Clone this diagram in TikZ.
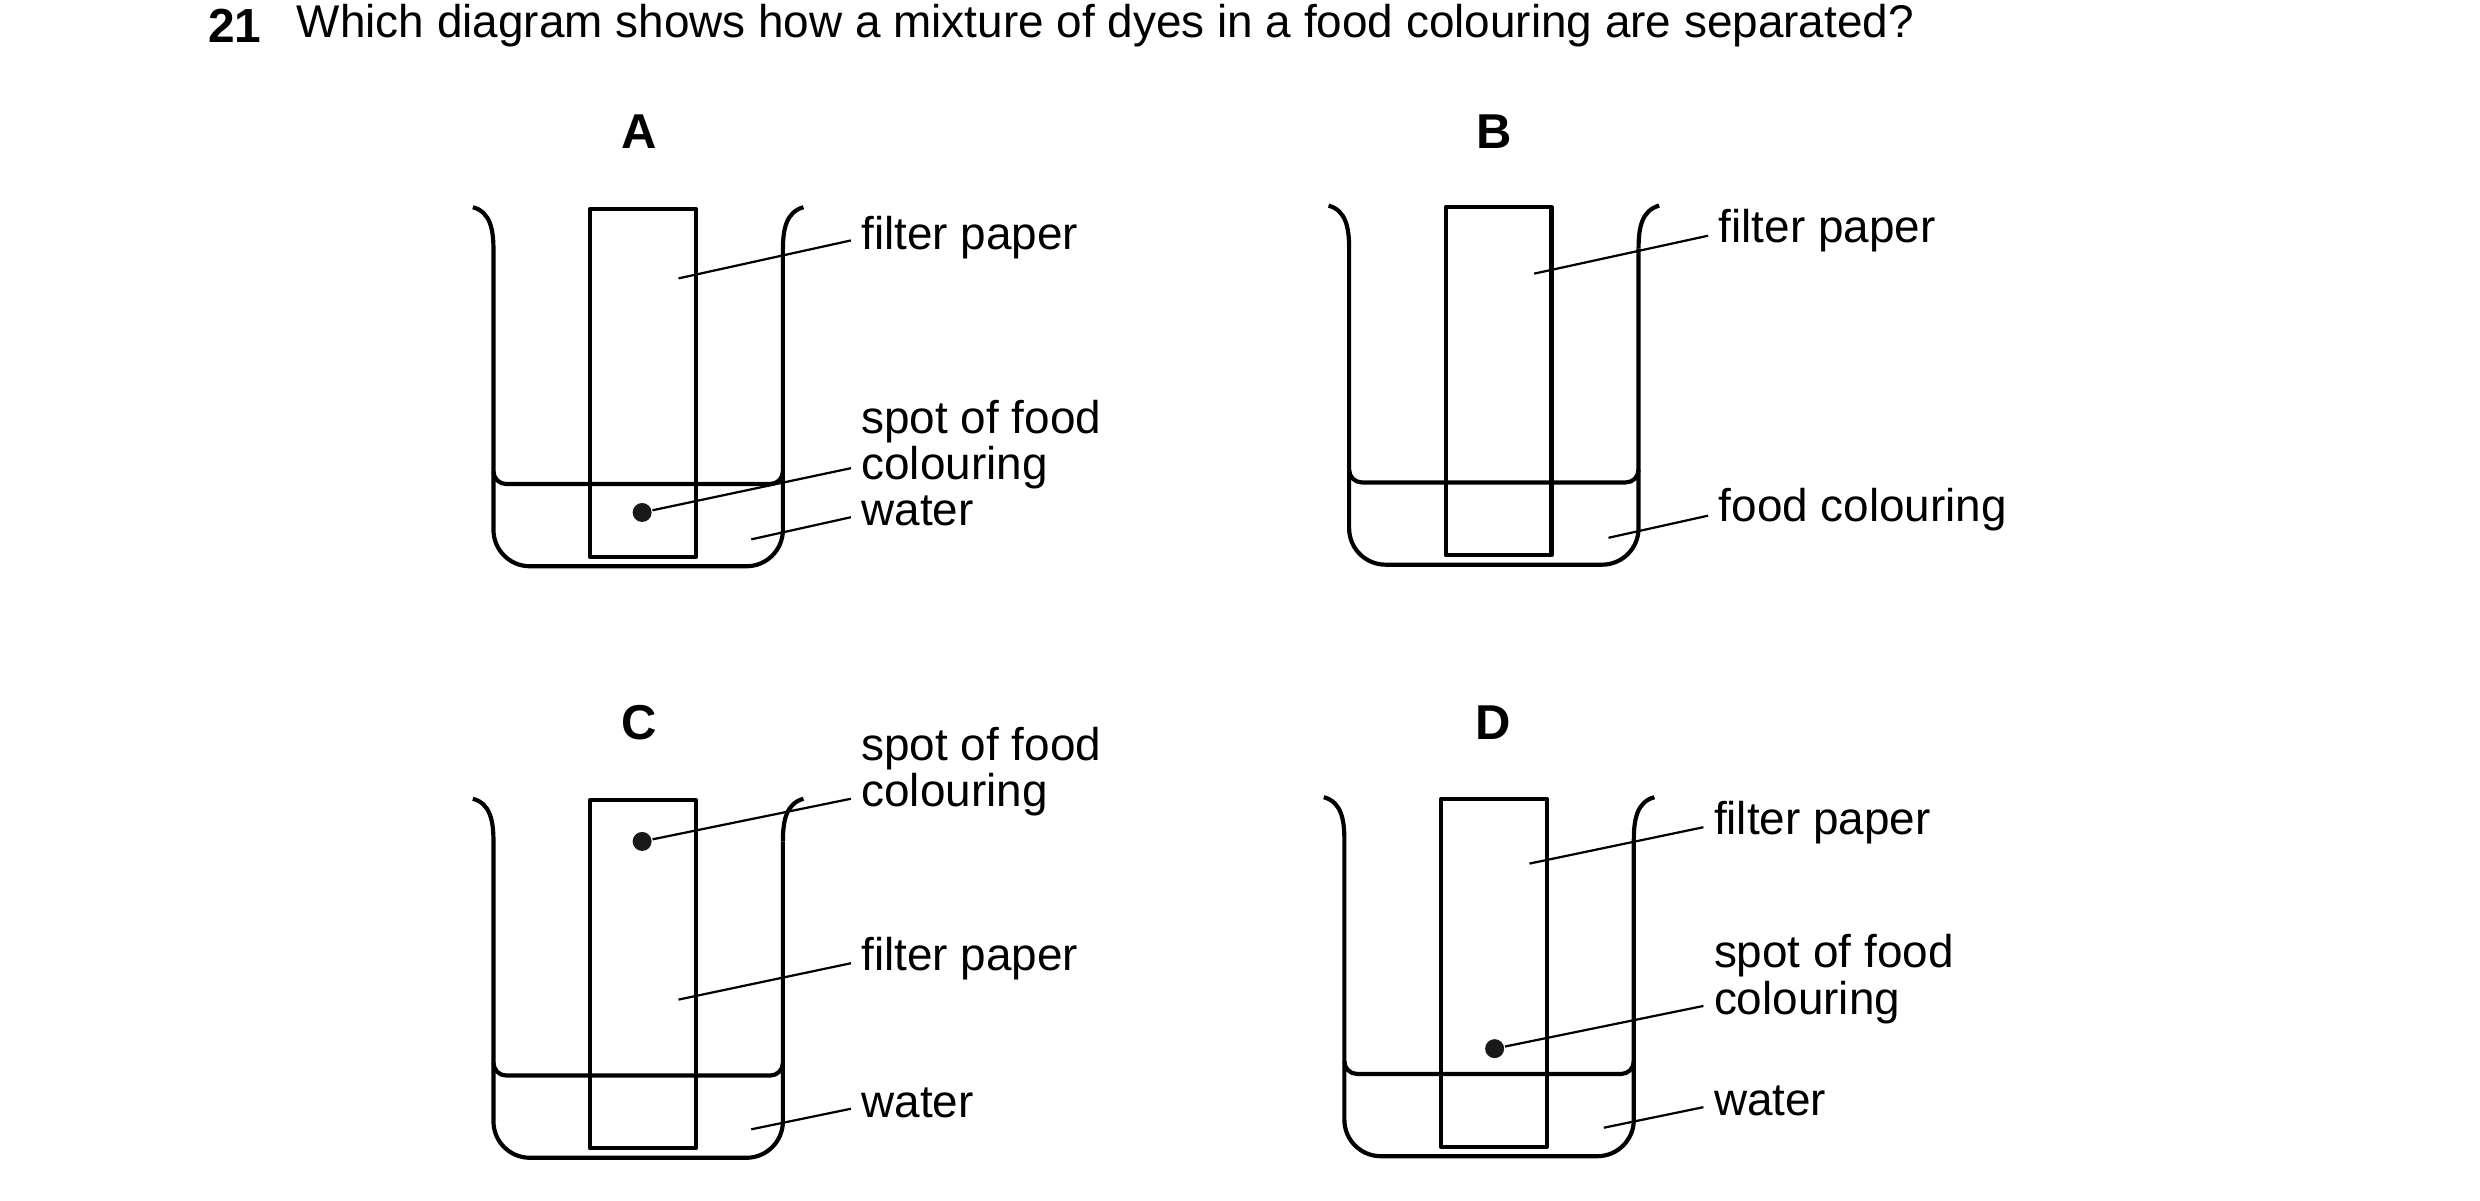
\documentclass[tikz,border=0pt]{standalone}
\usepackage{fontspec}
\setmainfont{Liberation Sans}
\usetikzlibrary{calc}

\tikzset{
  beaker/.style={line width=0.75pt, line join=round},
  leader/.style={line width=0.4pt},
  lbl/.style={anchor=west, inner sep=0pt, align=left,
    font=\fontsize{8.25}{8.3}\selectfont},
  spot/.style={circle, fill=black!90, inner sep=0pt, minimum size=0.12cm},
}

% beaker with water and filter paper
\newcommand\beakerset[1]{%
  \begin{scope}[shift={#1}]
  \draw[beaker] (299,131) .. controls (310,134) and (312,145) .. (312,158)
    [rounded corners=0.23cm] -- (312,358) -- (495,358) -- (495,158);
  \draw[beaker] (495,158) .. controls (495,145) and (497,134) .. (508,131);
  \draw[beaker] (312,298) to[out=-90,in=180] (320,306) -- (487,306)
    to[out=0,in=-90] (495,298);
  \draw[beaker] (373,132) rectangle (440,352);
  \end{scope}}

\begin{document}
\begin{tikzpicture}[x=0.01cm, y=-0.01cm]
  \useasboundingbox (0,0) rectangle (1568,759);

  \node[lbl, font=\fontsize{8.6}{10}\selectfont\bfseries] (qnum) at (131,16) {21};
  \node[lbl] (qtext) at (187,16)
    {Which diagram shows how a mixture of dyes in a food colouring are separated?};

  \foreach \l/\x/\y in {A/404/83, B/945/83, C/404/457, D/944/457}
    \node[font=\fontsize{8.8}{10}\selectfont\bfseries] (let\l) at (\x,\y) {\l};

  % A
  \beakerset{(0,0)}
  \node[lbl] (fpA) at (544,150) {filter paper};
  \node[lbl] (spA) at (544,281) {spot of food\\colouring};
  \node[lbl] (wA) at (544,323) {water};
  \node[spot] (dotA) at (406,324) {};
  \coordinate (fpAe) at (429,176);
  \coordinate (wAe) at (475,341);
  \draw[leader] (fpAe) -- ($(fpA.west)+(-6,2)$);
  \draw[leader] (dotA) -- ($(spA.west)+(-6,15)$);
  \draw[leader] (wAe) -- ($(wA.west)+(-6,4)$);

  % B
  \beakerset{(541,-1)}
  \node[lbl] (fpB) at (1086,146) {filter paper};
  \node[lbl] (fcB) at (1086,322) {food colouring};
  \coordinate (fpBe) at (970,173);
  \coordinate (fcBe) at (1017,340);
  \draw[leader] (fpBe) -- ($(fpB.west)+(-6,3)$);
  \draw[leader] (fcBe) -- ($(fcB.west)+(-6,4)$);

  % C
  \beakerset{(0,374)}
  \node[lbl] (spC) at (544,488) {spot of food\\colouring};
  \node[lbl] (fpC) at (544,606) {filter paper};
  \node[lbl] (wC) at (544,697) {water};
  \node[spot] (dotC) at (406,532) {};
  \coordinate (fpCe) at (429,632);
  \coordinate (wCe) at (475,714);
  \draw[leader] (dotC) -- ($(spC.west)+(-6,17)$);
  \draw[leader] (fpCe) -- ($(fpC.west)+(-6,3)$);
  \draw[leader] (wCe) -- ($(wC.west)+(-6,4)$);

  % D
  \beakerset{(538,373)}
  \node[lbl] (fpD) at (1083,520) {filter paper};
  \node[lbl] (spD) at (1083,619) {spot of food\\colouring};
  \node[lbl] (wD) at (1083,696) {water};
  \node[spot] (dotD) at (945,663) {};
  \coordinate (fpDe) at (967,546);
  \coordinate (wDe) at (1014,713);
  \draw[leader] (fpDe) -- ($(fpD.west)+(-6,3)$);
  \draw[leader] (dotD) -- ($(spD.west)+(-6,17)$);
  \draw[leader] (wDe) -- ($(wD.west)+(-6,4)$);
\end{tikzpicture}
\end{document}
